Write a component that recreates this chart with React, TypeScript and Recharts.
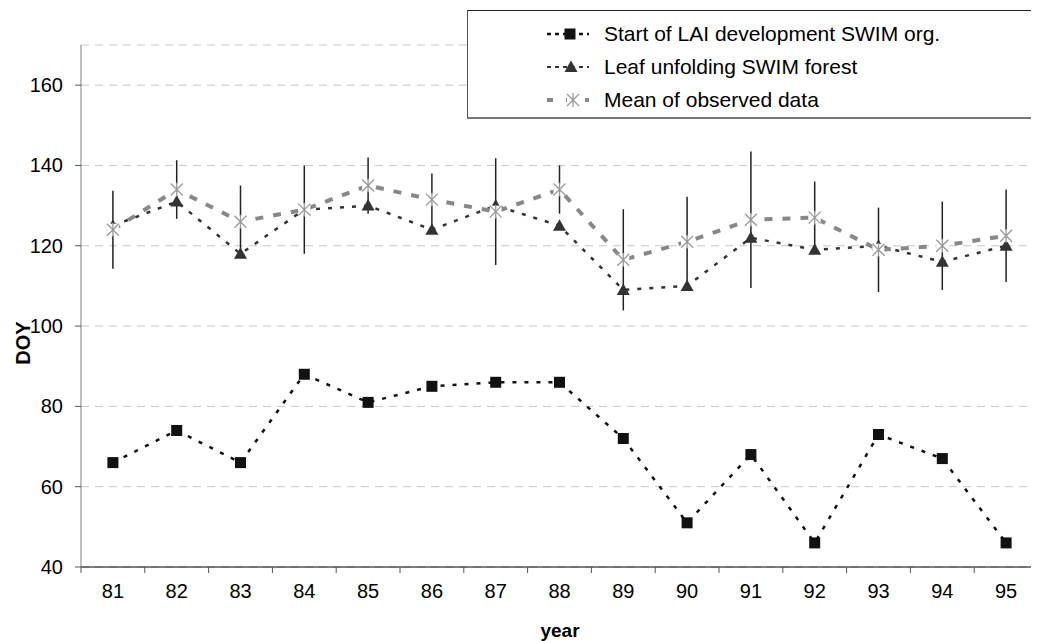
import { CartesianGrid, ErrorBar, Line, LineChart, XAxis, YAxis } from "recharts";

const years = [81, 82, 83, 84, 85, 86, 87, 88, 89, 90, 91, 92, 93, 94, 95];
const laiStart = [66, 74, 66, 88, 81, 85, 86, 86, 72, 51, 68, 46, 73, 67, 46];
const leafUnfolding = [125, 131, 118, 129, 130, 124, 130, 125, 109, 110, 122, 119, 120, 116, 120];
const observedMean = [124, 134, 126, 129, 135, 131.5, 128.5, 134, 116.5, 121, 126.5, 127, 119, 120, 122.5];
const observedSpread = [9.7, 7.3, 9, 11, 7, 6.5, 13.3, 6, 12.6, 11.2, 17, 9, 10.5, 11, 11.5];
const yTicks = [40, 60, 80, 100, 120, 140, 160];

const data = years.map((year, i) => ({
  year,
  lai: laiStart[i],
  leaf: leafUnfolding[i],
  obs: observedMean[i],
  err: observedSpread[i],
}));

// tick marks sit between the years, like the original category axis
const edgeTicks = [...years.map((y) => y - 0.5), years[years.length - 1] + 0.5];

const FONT = "'Liberation Sans', Arial, sans-serif";

const SquareDot = (props: any) => {
  const { cx, cy } = props;
  if (cx == null || cy == null) return null;
  return <rect x={cx - 5.5} y={cy - 5.5} width={11} height={11} fill="#111" />;
};

const TriangleDot = (props: any) => {
  const { cx, cy } = props;
  if (cx == null || cy == null) return null;
  return <polygon points={`${cx},${cy - 6.5} ${cx + 6.5},${cy + 5} ${cx - 6.5},${cy + 5}`} fill="#333" />;
};

const StarDot = (props: any) => {
  const { cx, cy } = props;
  if (cx == null || cy == null) return null;
  return (
    <g>
      <rect x={cx - 6} y={cy - 6} width={12} height={12} fill="#fff" />
      <path
        d={`M${cx - 6},${cy - 6}L${cx + 6},${cy + 6}M${cx + 6},${cy - 6}L${cx - 6},${cy + 6}M${cx},${cy - 7}L${cx},${cy + 7}`}
        stroke="#999"
        strokeWidth={1.3}
      />
    </g>
  );
};

const YearTick = (props: any) => {
  const { x, y, payload } = props;
  return (
    <text x={x} y={y + 19} textAnchor="middle" fontSize={20} fill="#000" fontFamily={FONT}>
      {payload.value}
    </text>
  );
};

const DoyTick = (props: any) => {
  const { x, y, payload } = props;
  return (
    <text x={x} y={y + 7} textAnchor="end" fontSize={20} fill="#000" fontFamily={FONT}>
      {payload.value}
    </text>
  );
};

const legendRows = [
  { label: "Start of LAI development SWIM org.", color: "#111", dash: "4 4", width: 2.5, marker: "square" },
  { label: "Leaf unfolding SWIM forest", color: "#333", dash: "4 4", width: 2, marker: "triangle" },
  { label: "Mean of observed data", color: "#888", dash: "6 13", width: 4, marker: "star" },
];

function LegendBox() {
  return (
    <div
      style={{
        position: "absolute",
        left: 467,
        top: 10,
        width: 571,
        height: 106,
        borderTop: "1px solid #222",
        borderLeft: "1px solid #555",
        borderBottom: "2px solid #777",
        background: "#fff",
        fontFamily: FONT,
        fontSize: 21,
        color: "#000",
      }}
    >
      {legendRows.map((row, i) => (
        <div key={row.label} style={{ position: "absolute", left: 0, top: 11 + i * 33, height: 24, width: "100%" }}>
          <svg width={60} height={24} style={{ position: "absolute", left: 76, top: 0 }}>
            <line x1={3} y1={12} x2={45} y2={12} stroke={row.color} strokeWidth={row.width} strokeDasharray={row.dash} />
            {row.marker === "square" && <SquareDot cx={26} cy={12} />}
            {row.marker === "triangle" && <TriangleDot cx={27} cy={12} />}
            {row.marker === "star" && <StarDot cx={29} cy={12} />}
          </svg>
          <span style={{ position: "absolute", left: 136, top: 0, lineHeight: "24px", whiteSpace: "nowrap" }}>
            {row.label}
          </span>
        </div>
      ))}
    </div>
  );
}

export default function App() {
  return (
    <div style={{ position: "relative", width: 1039, height: 641, margin: "-8px 0 0 -8px", background: "#fff" }}>
      <LineChart
        width={1039}
        height={641}
        data={data}
        margin={{ top: 45, right: 1, bottom: 38, left: 21 }}
        style={{ fontFamily: FONT }}
      >
        <CartesianGrid xAxisId="labels" vertical={false} stroke="#c8c8c8" strokeDasharray="8 6" />
        <XAxis
          xAxisId="edges"
          type="number"
          dataKey="year"
          domain={[80.5, 95.5]}
          ticks={edgeTicks}
          tickFormatter={() => ""}
          tickSize={6}
          height={6}
          stroke="#000"
          tickLine={{ stroke: "#555" }}
        />
        <XAxis
          xAxisId="labels"
          type="number"
          dataKey="year"
          domain={[80.5, 95.5]}
          ticks={years}
          axisLine={false}
          tickLine={false}
          tickMargin={0}
          height={30}
          tick={<YearTick />}
        />
        <YAxis
          type="number"
          domain={[40, 170]}
          ticks={yTicks}
          width={60}
          stroke="#808080"
          tickSize={6}
          tickMargin={12}
          tickLine={{ stroke: "#555" }}
          tick={<DoyTick />}
        />
        <Line
          xAxisId="labels"
          dataKey="lai"
          stroke="#111"
          strokeWidth={2.5}
          strokeDasharray="4 8"
          dot={<SquareDot />}
          activeDot={false}
          isAnimationActive={false}
        />
        <Line
          xAxisId="labels"
          dataKey="leaf"
          stroke="#333"
          strokeWidth={2.5}
          strokeDasharray="4 8"
          dot={<TriangleDot />}
          activeDot={false}
          isAnimationActive={false}
        />
        <Line
          xAxisId="labels"
          dataKey="obs"
          stroke="#888"
          strokeWidth={4}
          strokeDasharray="8 10"
          dot={<StarDot />}
          activeDot={false}
          isAnimationActive={false}
        >
          <ErrorBar dataKey="err" width={0} stroke="#222" strokeWidth={1.5} direction="y" />
        </Line>
      </LineChart>
      <div
        style={{
          position: "absolute",
          left: 23,
          top: 343,
          transform: "translate(-50%, -50%) rotate(-90deg)",
          fontFamily: FONT,
          fontWeight: "bold",
          fontSize: 20,
          lineHeight: "20px",
        }}
      >
        DOY
      </div>
      <div
        style={{
          position: "absolute",
          left: 560,
          top: 631,
          transform: "translate(-50%, -50%)",
          fontFamily: FONT,
          fontWeight: "bold",
          fontSize: 19,
          lineHeight: "20px",
        }}
      >
        year
      </div>
      <LegendBox />
    </div>
  );
}
